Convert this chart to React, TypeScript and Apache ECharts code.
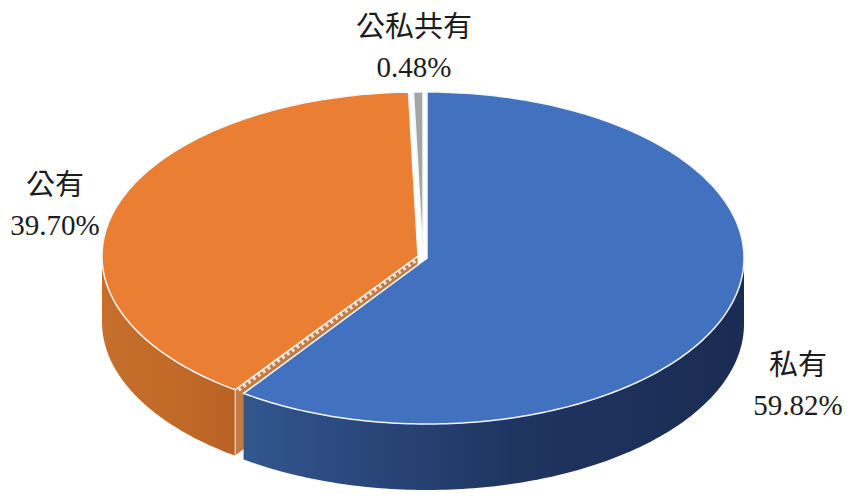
import React, { useEffect, useRef } from "react";
import * as echarts from "echarts";

const categories = ["私有", "公有", "公私共有"];
const shares = [59.82, 39.7, 0.48];

const sliceColors = ["#4271bf", "#ea7e33", "#a5a5a5"];
const wallColors = [
  ["#32568f", "#1f3460", "#1a2c52"],
  ["#c66e2c", "#c26a28", "#b96224"],
  ["#7c7c7c", "#7c7c7c", "#7c7c7c"],
];
const sliceCenters = [
  [427, 258],
  [418, 256],
  [423, 257],
];
const labelCenters = [
  [798, 385],
  [55, 205],
  [414, 47],
];
const RX = [317, 316, 316];
const RY = [166, 164, 165];
const DEPTH = 66;
const FONT = "'Liberation Serif', 'Noto Sans CJK TC', serif";

const total = shares.reduce((a, b) => a + b, 0);

function startAngle(i: number) {
  let s = 0;
  for (let k = 0; k < i; k++) s += shares[k];
  return (s / total) * Math.PI * 2;
}

function rim(i: number, a: number, dy = 0) {
  return [
    sliceCenters[i][0] + RX[i] * Math.sin(a),
    sliceCenters[i][1] - RY[i] * Math.cos(a) + dy,
  ];
}

function arc(i: number, a0: number, a1: number, dy = 0) {
  const n = Math.max(2, Math.ceil((a1 - a0) / (Math.PI / 180)));
  const out: number[][] = [];
  for (let k = 0; k <= n; k++) out.push(rim(i, a0 + ((a1 - a0) * k) / n, dy));
  return out;
}

function renderSlice(_p: any, api: any) {
  const i = api.value(1) as number;
  const value = api.value(0) as number;
  const a0 = startAngle(i);
  const a1 = a0 + (value / total) * Math.PI * 2;
  const [cx, cy] = sliceCenters[i];
  const children: any[] = [];

  // outer wall: only the front half of the ellipse faces the viewer
  const w0 = Math.max(a0, Math.PI / 2);
  const w1 = Math.min(a1, (Math.PI * 3) / 2);
  if (w1 > w0) {
    const top = arc(i, w0, w1);
    const bottom = arc(i, w0, w1, DEPTH).reverse();
    const [c0, c1, c2] = wallColors[i];
    const fill = new echarts.graphic.LinearGradient(
      i === 0 ? 0 : 1,
      0,
      i === 0 ? 1 : 0,
      0,
      [
        { offset: 0, color: i === 0 ? c0 : c2 },
        { offset: i === 0 ? 0.55 : 0.5, color: c1 },
        { offset: 1, color: i === 0 ? c2 : c0 },
      ]
    );
    children.push({
      type: "polygon",
      shape: { points: top.concat(bottom) },
      style: { fill },
    });
  }

  // cut face of the slice that looks towards the viewer
  if (i === 1) {
    const p = rim(i, a0);
    children.push({
      type: "polygon",
      shape: {
        points: [
          [cx, cy],
          p,
          [p[0], p[1] + DEPTH],
          [cx, cy + DEPTH],
        ],
      },
      style: { fill: "#c47a40", stroke: "#f3e6da", lineWidth: 1 },
    });
    children.push({
      type: "line",
      shape: { x1: cx + 2, y1: cy + 1, x2: p[0] + 2, y2: p[1] + 1 },
      style: {
        stroke: "rgba(255,255,255,0.75)",
        lineWidth: 4,
        lineDash: [3, 3],
      },
    });
  }

  // top face
  children.push({
    type: "polygon",
    shape: { points: [[cx, cy] as number[]].concat(arc(i, a0, a1)) },
    style: { fill: sliceColors[i], stroke: "#f4f6fa", lineWidth: 1.5 },
  });

  // label
  children.push({
    type: "text",
    style: {
      x: labelCenters[i][0],
      y: labelCenters[i][1],
      text: `${categories[i]}\n${value.toFixed(2)}%`,
      fill: "#1c1c1c",
      font: `29px ${FONT}`,
      fontSize: 29,
      fontFamily: FONT,
      lineHeight: 40,
      align: "center",
      verticalAlign: "middle",
    },
  });

  return { type: "group", children };
}

export default function App() {
  const ref = useRef<HTMLDivElement>(null);
  useEffect(() => {
    const chart = echarts.init(ref.current!, undefined, { renderer: "svg" });
    chart.setOption({
      animation: false,
      backgroundColor: "#ffffff",
      series: [
        {
          type: "custom",
          coordinateSystem: "none",
          renderItem: renderSlice,
          // painted back to front: the private slice overlaps the others
          data: shares.map((v, i) => [v, i]).reverse(),
          silent: true,
        },
      ],
    });
    return () => chart.dispose();
  }, []);
  return (
    <div
      ref={ref}
      style={{ position: "fixed", left: 0, top: 0, width: 856, height: 496 }}
    />
  );
}
